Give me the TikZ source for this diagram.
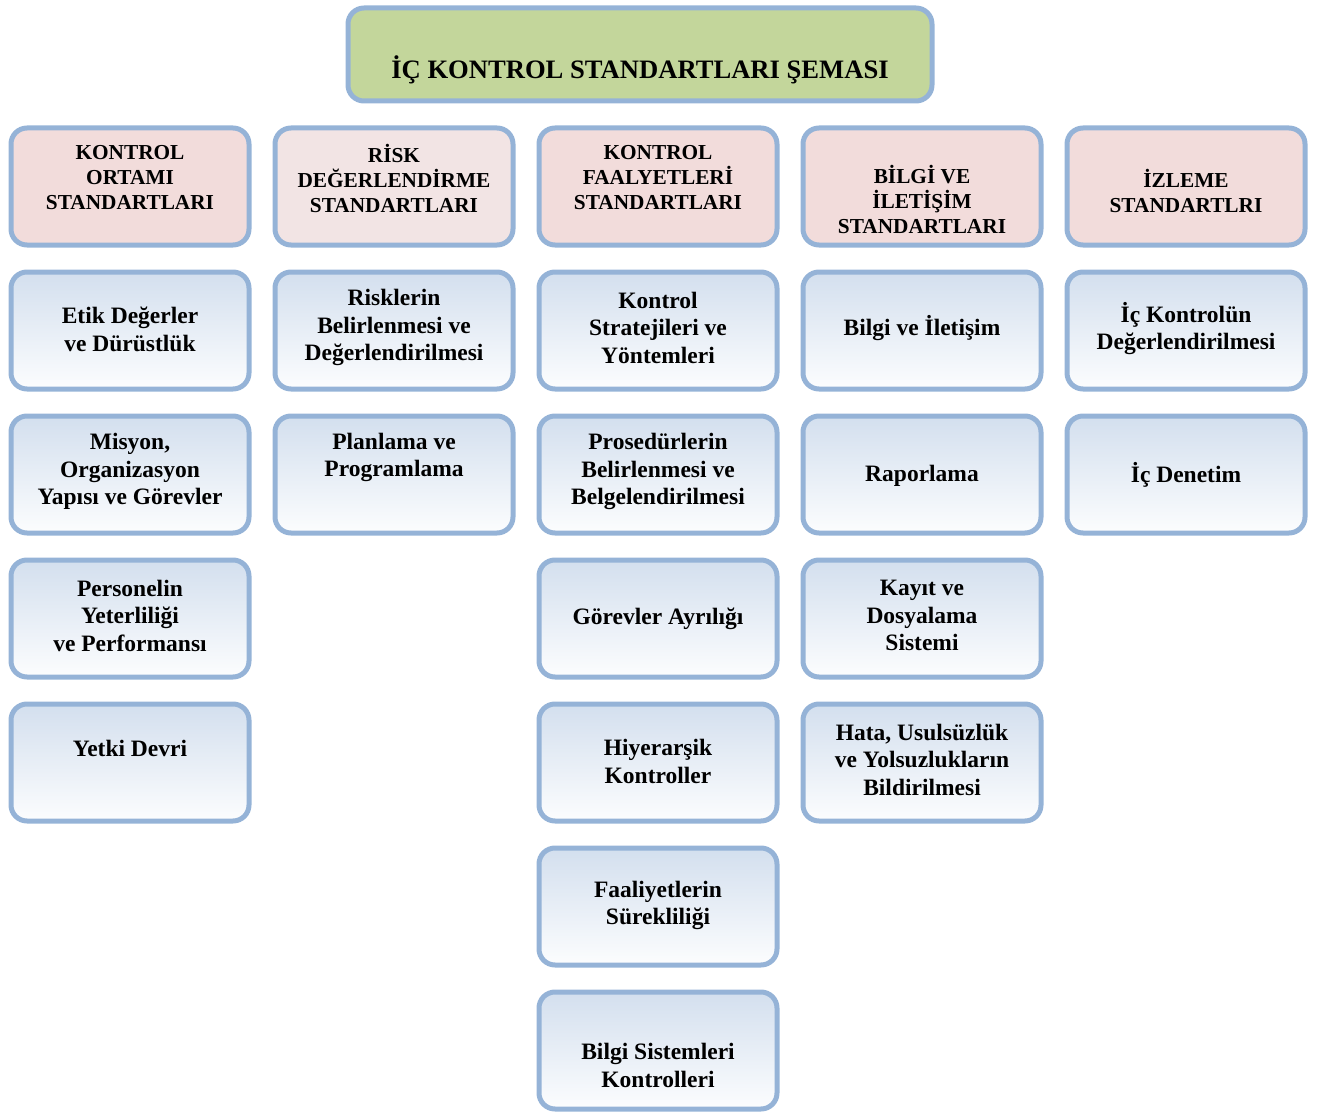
\documentclass[tikz,border=0pt]{standalone}
\usepackage{fontspec}
\setmainfont{Liberation Serif}
\definecolor{bord}{HTML}{95B3D7}
\definecolor{titlefill}{HTML}{C3D69B}
\definecolor{headpink}{HTML}{F2DCDB}
\definecolor{headlight}{HTML}{F2E4E4}
\definecolor{itemtop}{HTML}{D3DFEE}
\definecolor{itembot}{HTML}{FCFDFE}
\begin{document}
\begin{tikzpicture}[x=1pt,y=-1pt,
  box/.style={rounded corners=16pt, line width=5pt, draw=bord, minimum width=238pt, minimum height=117pt, inner sep=0pt},
  headbox/.style={box, fill=headpink},
  itembox/.style={box, top color=itemtop, bottom color=itembot},
  htext/.style={align=center, font=\fontsize{21.3}{25}\selectfont\bfseries, inner sep=0pt},
  itext/.style={align=center, font=\fontsize{23.5}{27.5}\selectfont\bfseries, inner sep=0pt}]
\useasboundingbox (0,0) rectangle (1320,1113);

% title
\node[box, fill=titlefill, minimum width=584pt, minimum height=93pt] (title) at (640,54.5) {};
\node[inner sep=0pt, font=\fontsize{26.6}{30}\selectfont\bfseries] (ttitle) at (640,70) {İÇ KONTROL STANDARTLARI ŞEMASI};

% headers
\node[headbox] (h1) at (130,186.5) {};
\node[headbox, fill=headlight] (h2) at (394,186.5) {};
\node[headbox] (h3) at (658,186.5) {};
\node[headbox] (h4) at (922,186.5) {};
\node[headbox] (h5) at (1186,186.5) {};
\node[htext] (th1) at (130,178) {KONTROL\\ORTAMI\\STANDARTLARI};
\node[htext] (th2) at (394,178) {RİSK\\DEĞERLENDİRME\\STANDARTLARI};
\node[htext] (th3) at (658,178) {KONTROL\\FAALYETLERİ\\STANDARTLARI};
\node[htext] (th4) at (922,199) {BİLGİ VE\\İLETİŞİM\\STANDARTLARI};
\node[htext] (th5) at (1186,190.5) {İZLEME\\STANDARTLRI};

% column 1
\node[itembox] (a2) at (130,330.5) {};
\node[itembox] (a3) at (130,474.5) {};
\node[itembox] (a4) at (130,618.5) {};
\node[itembox] (a5) at (130,762.5) {};
\node[itext] (ta2) at (130,329.5) {Etik Değerler\\ve Dürüstlük};
\node[itext] (ta3) at (130,471.5) {Misyon,\\Organizasyon\\Yapısı ve Görevler};
\node[itext] (ta4) at (130,615.5) {Personelin\\Yeterliliği\\ve Performansı};
\node[itext] (ta5) at (130,748) {Yetki Devri};

% column 2
\node[itembox] (b2) at (394,330.5) {};
\node[itembox] (b3) at (394,474.5) {};
\node[itext] (tb2) at (394,327.5) {Risklerin\\Belirlenmesi ve\\Değerlendirilmesi};
\node[itext] (tb3) at (394,457.5) {Planlama ve\\Programlama};

% column 3
\node[itembox] (c2) at (658,330.5) {};
\node[itembox] (c3) at (658,474.5) {};
\node[itembox] (c4) at (658,618.5) {};
\node[itembox] (c5) at (658,762.5) {};
\node[itembox] (c6) at (658,906.5) {};
\node[itembox] (c7) at (658,1050.5) {};
\node[itext] (tc2) at (658,327.5) {Kontrol\\Stratejileri ve\\Yöntemleri};
\node[itext] (tc3) at (658,471.5) {Prosedürlerin\\Belirlenmesi ve\\Belgelendirilmesi};
\node[itext] (tc4) at (658,619) {Görevler Ayrılığı};
\node[itext] (tc5) at (658,761.5) {Hiyerarşik\\Kontroller};
\node[itext] (tc6) at (658,905.5) {Faaliyetlerin\\Sürekliliği};
\node[itext] (tc7) at (658,1065.5) {Bilgi Sistemleri\\Kontrolleri};

% column 4
\node[itembox] (d2) at (922,330.5) {};
\node[itembox] (d3) at (922,474.5) {};
\node[itembox] (d4) at (922,618.5) {};
\node[itembox] (d5) at (922,762.5) {};
\node[itext] (td2) at (922,328) {Bilgi ve İletişim};
\node[itext] (td3) at (922,476) {Raporlama};
\node[itext] (td4) at (922,615.5) {Kayıt ve\\Dosyalama\\Sistemi};
\node[itext] (td5) at (922,759.5) {Hata, Usulsüzlük\\ve Yolsuzlukların\\Bildirilmesi};

% column 5
\node[itembox] (e2) at (1186,330.5) {};
\node[itembox] (e3) at (1186,474.5) {};
\node[itext] (te2) at (1186,328.5) {İç Kontrolün\\Değerlendirilmesi};
\node[itext] (te3) at (1186,475) {İç Denetim};
\end{tikzpicture}
\end{document}
